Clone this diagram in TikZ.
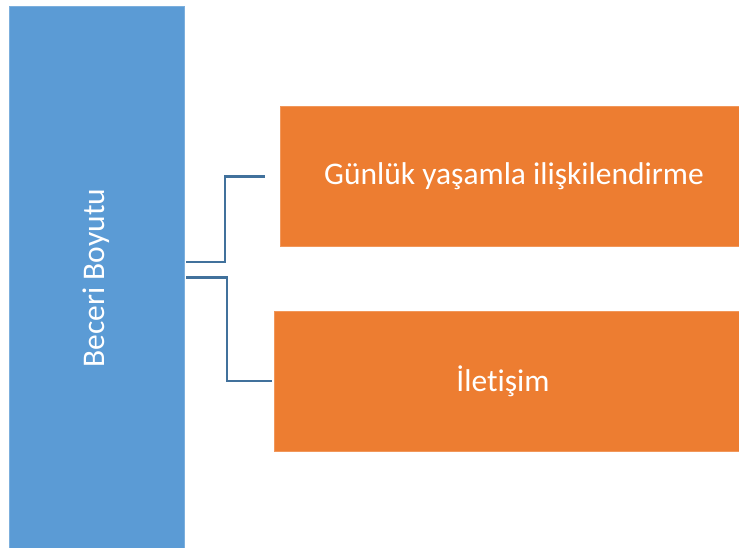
\documentclass[tikz,border=0pt]{standalone}
\usepackage{fontspec}
\setmainfont[Ligatures=NoCommon]{Carlito}
\definecolor{boxblue}{HTML}{5B9BD5}
\definecolor{boxorange}{HTML}{ED7D31}
\definecolor{linkblue}{HTML}{41719C}
\begin{document}
\begin{tikzpicture}[x=1pt,y=-1pt,
  mainbox/.style={fill=boxblue, draw=boxblue!80!white, line width=0.8pt},
  itembox/.style={fill=boxorange, draw=boxorange!80!white, line width=0.8pt},
  label/.style={text=white, font=\fontsize{31.5}{36}\selectfont},
  link/.style={draw=linkblue, line width=2.4pt}]
  \useasboundingbox (0,0) rectangle (739,548);
  % left column
  \path[mainbox] (9.5,6) rectangle (184,560);
  \node[label, rotate=90] (root) at (96.5,278) {Beceri Boyutu};
  % right items
  \path[itembox] (280,106) rectangle (750,246);
  \node[label] (g) at (514,176) {Günlük yaşamla ilişkilendirme};
  \path[itembox] (274,311.5) rectangle (750,451.5);
  \node[label] (i) at (503,381.5) {İlet\kern0pt işim};
  % connectors
  \coordinate (s1) at (186,262);
  \coordinate (e1) at (265,176.5);
  \coordinate (s2) at (186,277.5);
  \coordinate (e2) at (272,381);
  \draw[link] (s1) -- (225,262) -- (225,176.5) -- (e1);
  \draw[link] (s2) -- (227,277.5) -- (227,381) -- (e2);
\end{tikzpicture}
\end{document}
